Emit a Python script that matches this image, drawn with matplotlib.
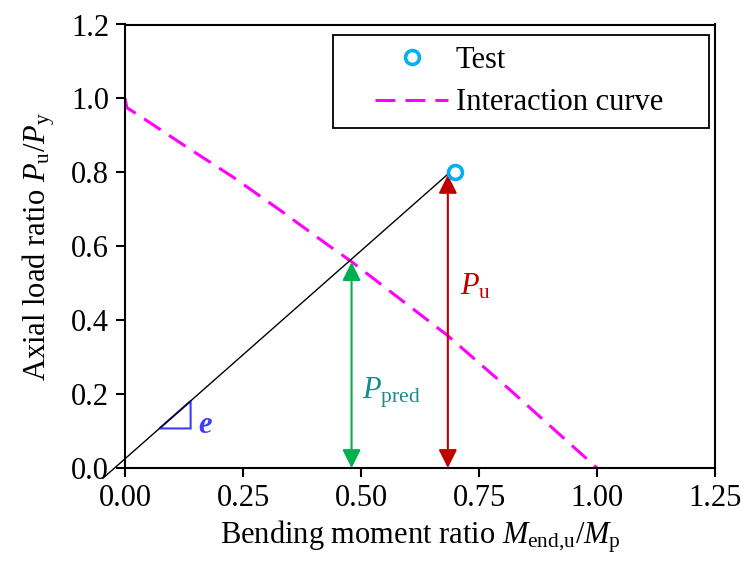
import numpy as np
import matplotlib
matplotlib.use('Agg')
import matplotlib.pyplot as plt
from matplotlib.patches import Rectangle, Polygon

plt.rcParams['font.family'] = ['Liberation Serif', 'DejaVu Serif']
plt.rcParams['mathtext.fontset'] = 'custom'
plt.rcParams['mathtext.rm'] = 'Liberation Serif'
plt.rcParams['mathtext.it'] = 'Liberation Serif:italic'
plt.rcParams['mathtext.bf'] = 'Liberation Serif:bold'

# datos
test_m = [0.70]
test_p = [0.80]

curve_m = [0.0, 0.004, 0.039, 0.124, 0.229, 0.328, 0.427, 0.477, 0.682, 0.816, 1.0]
curve_p = [1.0, 0.975, 0.946, 0.874, 0.787, 0.698, 0.606, 0.561, 0.360, 0.211, 0.0]

# linea de carga (excentricidad e)
load_m = [-0.047, 0.684]
load_p = [-0.028, 0.795]

# flechas P_pred y P_u
pred_m, pred_p = 0.48, 0.557
pu_m, pu_p = 0.684, 0.793

tri_m = [0.073, 0.139, 0.139]
tri_p = [0.107, 0.107, 0.181]

xticks = [0.0, 0.25, 0.5, 0.75, 1.0, 1.25]
yticks = [0.0, 0.2, 0.4, 0.6, 0.8, 1.0, 1.2]

fs = 22

fig = plt.figure(figsize=(7.47, 5.70), dpi=100)
ax = fig.add_axes([125/747, 102/570, 590/747, 443.5/570])

ax.plot(load_m, load_p, color='black', lw=1.0, clip_on=False, zorder=3)

ax.plot(curve_m, curve_p, color='#FF00FF', lw=2.2, dashes=(6.5, 3.3),
        label='Interaction curve', zorder=2)
ax.plot(test_m, test_p, 'o', ms=10, mfc='white', mec='#00B0F0', mew=2.6,
        label='Test', zorder=5)

ax.add_patch(Polygon(list(zip(tri_m, tri_p)), closed=True, fill=False,
                     edgecolor='#3C3CFF', lw=1.5, zorder=2))
ax.text(0.155, 0.116, 'e', color='#3C3CFF', fontsize=fs, fontweight='bold',
        fontstyle='italic', ha='left', va='center')

ap = '<|-|>,head_length=0.4,head_width=0.2'
ax.annotate('', xy=(pred_m, 0), xytext=(pred_m, pred_p), annotation_clip=False,
            arrowprops=dict(arrowstyle=ap, color='#00B050', lw=1.5,
                            mutation_scale=28, shrinkA=0, shrinkB=0))
ax.annotate('', xy=(pu_m, 0), xytext=(pu_m, pu_p), annotation_clip=False,
            arrowprops=dict(arrowstyle=ap, color='#C00000', lw=1.5,
                            mutation_scale=28, shrinkA=0, shrinkB=0))
ax.text(0.502, 0.203, r'$P_{\mathrm{pred}}$', color='#158C8F', fontsize=fs,
        ha='left', va='center')
ax.text(0.71, 0.49, r'$P_{\mathrm{u}}$', color='#C00000', fontsize=fs,
        ha='left', va='center')

ax.set_xlim(0, 1.25)
ax.set_ylim(0, 1.2)
ax.set_xticks(xticks)
ax.set_yticks(yticks)
ax.set_xticklabels(['%.2f' % v for v in xticks])
ax.set_yticklabels(['%.1f' % v for v in yticks])
ax.tick_params(direction='out', length=6.5, width=1.5, labelsize=fs, pad=5)
for s in ax.spines.values():
    s.set_linewidth(1.5)

ax.set_xlabel(r'Bending moment ratio $M_{\mathrm{end{,}u}}/M_{\mathrm{p}}$', fontsize=fs, labelpad=4)
ax.set_ylabel(r'Axial load ratio $P_{\mathrm{u}}/P_{\mathrm{y}}$', fontsize=fs, labelpad=10)

# leyenda: cuadro dibujado a mano
handles, labels = ax.get_legend_handles_labels()
leg = ax.legend(handles[::-1], labels[::-1], loc='center', bbox_to_anchor=(0.668, 0.8715),
                frameon=False, fontsize=fs, handlelength=2.4, handletextpad=0.25,
                labelspacing=0.45, borderpad=0, borderaxespad=0)
ax.add_patch(Rectangle((0.3525, 0.7666), 0.6373, 0.2097, transform=ax.transAxes,
                       fill=False, edgecolor='black', lw=1.3, zorder=6))

fig.savefig('out.png', dpi=100)
